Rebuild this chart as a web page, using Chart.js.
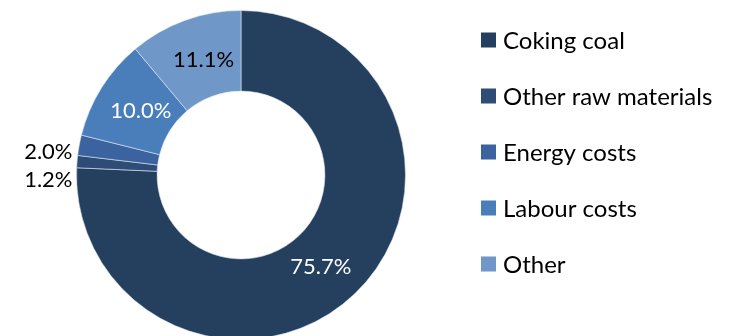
<!DOCTYPE html>
<html>
<head>
<meta charset="utf-8">
<script src="https://cdn.jsdelivr.net/npm/chart.js@4"></script>
<style>
    html, body { margin: 0; padding: 0; background: #fff; }
    #wrap { width: 733px; height: 336px; overflow: hidden; }
</style>
</head>
<body>
<div id="wrap"><canvas id="cost"></canvas></div>
<script>
const categories = ['Coking coal', 'Other raw materials', 'Energy costs', 'Labour costs', 'Other'];
const shares = [75.7, 1.2, 2.0, 10.0, 11.1];
const colors = ['#253f5f', '#2d4d77', '#3b63a0', '#4a7ebb', '#6f97c8'];
const labelColors = ['#fff', '#000', '#000', '#fff', '#000'];
const insideLabel = [true, false, false, true, true];

const FONT = 'Lato, "Open Sans", sans-serif';

/**
 * Writes the percentage on each slice; the thin slices get their label
 * outside the ring, stacked so they do not collide.
 */
const sliceLabels = {
    id: 'sliceLabels',
    afterDatasetsDraw(chart) {
        const ctx = chart.ctx;
        const arcs = chart.getDatasetMeta(0).data;
        let prevY = -Infinity;
        ctx.save();
        ctx.font = '22px ' + FONT;
        ctx.textBaseline = 'middle';
        const outside = [];
        arcs.forEach((arc, i) => {
            const text = shares[i].toFixed(1) + '%';
            if (insideLabel[i]) {
                const p = arc.tooltipPosition();
                // nudge labels a little towards the vertical axis, like the source layout
                const dx = p.x > arc.x ? -6 : 5;
                ctx.fillStyle = labelColors[i];
                ctx.textAlign = 'center';
                ctx.fillText(text, p.x + dx, p.y + 2);
            } else {
                const mid = (arc.startAngle + arc.endAngle) / 2;
                outside.push({
                    text: text,
                    x: arc.x - arc.outerRadius - 4,
                    y: arc.y + Math.sin(mid) * arc.outerRadius,
                });
            }
        });
        outside.sort((a, b) => a.y - b.y);
        outside.forEach(o => {
            const y = Math.max(o.y + 7, prevY + 28);
            prevY = y;
            ctx.fillStyle = '#000';
            ctx.textAlign = 'right';
            ctx.fillText(o.text, o.x, y);
        });
        ctx.restore();
    }
};

/**
 * Legend on the right: square swatch plus category name.
 */
const sideLegend = {
    id: 'sideLegend',
    afterDraw(chart) {
        const ctx = chart.ctx;
        const left = 481, top = 40, step = 56, box = 15;
        ctx.save();
        ctx.font = '24px ' + FONT;
        ctx.textBaseline = 'middle';
        ctx.textAlign = 'left';
        categories.forEach((name, i) => {
            const y = top + i * step;
            ctx.fillStyle = colors[i];
            ctx.fillRect(left, y - box / 2, box, box);
            ctx.fillStyle = '#000';
            ctx.fillText(name, left + box + 7, y + 1);
        });
        ctx.restore();
    }
};

const canvas = document.getElementById('cost');
canvas.width = 733;
canvas.height = 346;

new Chart(canvas, {
    type: 'doughnut',
    data: {
        labels: categories,
        datasets: [{
            data: shares,
            backgroundColor: colors,
            borderColor: 'rgba(220, 230, 242, 0.6)',
            borderWidth: 1,
        }]
    },
    options: {
        responsive: false,
        animation: false,
        cutout: '51%',
        layout: {
            padding: { left: 76, top: 10, right: 327, bottom: 6 }
        },
        plugins: {
            legend: { display: false },
            tooltip: { enabled: false },
        }
    },
    plugins: [sliceLabels, sideLegend],
});
</script>
</body>
</html>
